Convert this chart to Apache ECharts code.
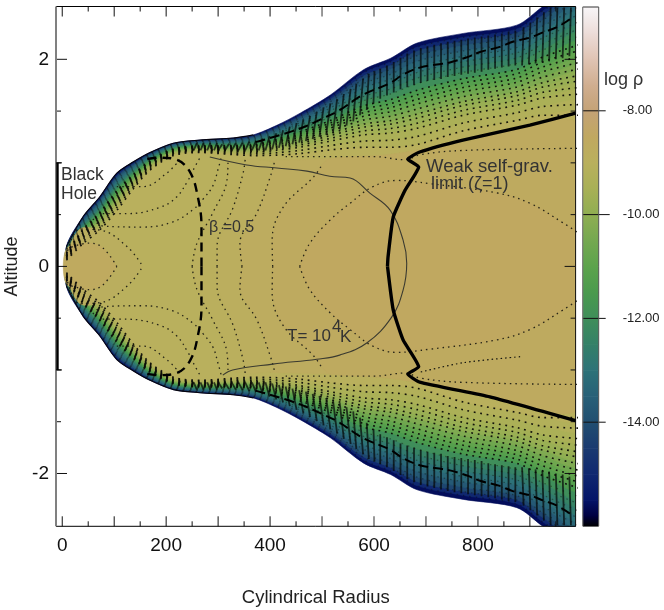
<!DOCTYPE html>
<html><head><meta charset="utf-8">
<style>html,body{margin:0;padding:0;background:#fff}#c{width:664px;height:610px}</style>
<script src="https://cdn.jsdelivr.net/npm/echarts@6/dist/echarts.min.js"></script>
</head><body><div id="c"></div>
<script>
// ---------- colour table (colour bar) ----------
const cbLevels=[-16,-15.8,-15.5,-15,-14.5,-14,-13.5,-13,-12.5,-12,-11.5,-11,-10.5,-10,-9.5,-9,-8.5,-8,-7.5,-7,-6.5,-6];
const cbColors=['#000000','#000040','#041468','#102870','#1a3a70','#214e70','#286078','#2d7278','#348068','#3f8e5a','#4a9a4e','#5ca34c','#74a850','#8fae52','#a8b056','#b9b05d','#c0a860','#c4a276','#d0ae90','#e0c4b4','#ecdcd8','#f8f6f8'];
const cbTicks=[-8,-10,-12,-14];
// ---------- density contour levels ----------
const levels=[-15.6,-15,-14.2,-13.7,-13.3,-13,-12.7,-12.4,-12,-11.5,-11.2,-10.9,-10.6,-10.3,-10,-9.8,-9.6,-9.4,-9.2,-9];
const rStops=[8,40,72,105,137,169,214,265,329,368,414,458,516,580,632,683,772,875,925,1000];
// altitude of each contour level at each radius stop (upper half, disc is mirror symmetric)
const zAt8=[.19,.185,.18,.175,.17,.16,.15,.145,.14,.13,.125,.12,.11,.105,.10,.095,.09,.08,.07,.06];
const zAt40=[.48,.47,.459,.448,.433,.419,.405,.39,.376,.359,.347,.336,.324,.311,.298,.288,.275,.262,.241,.22];
const zAt72=[.67,.657,.644,.63,.612,.595,.577,.56,.542,.521,.507,.492,.478,.462,.446,.433,.417,.401,.376,.35];
const zAt105=[.90,.886,.871,.855,.835,.815,.796,.776,.756,.733,.716,.70,.684,.666,.648,.634,.616,.598,.569,.54];
const zAt137=[1.01,1.0,.989,.978,.963,.949,.935,.92,.906,.889,.877,.866,.854,.841,.828,.818,.805,.792,.771,.75];
const zAt169=[1.10,1.093,1.086,1.079,1.069,1.06,1.051,1.041,1.032,1.021,1.013,1.006,.998,.99,.981,.974,.966,.957,.944,.93];
const zAt214=[1.19,1.185,1.18,1.175,1.168,1.162,1.155,1.149,1.142,1.134,1.129,1.123,1.118,1.112,1.106,1.101,1.095,1.089,1.08,1.07];
const zAt265=[1.22,1.215,1.21,1.205,1.198,1.192,1.185,1.179,1.172,1.164,1.159,1.153,1.148,1.142,1.136,1.131,1.125,1.119,1.11,1.10];
const zAt329=[1.24,1.234,1.227,1.22,1.211,1.202,1.194,1.185,1.176,1.166,1.158,1.151,1.144,1.136,1.128,1.122,1.114,1.106,1.093,1.08];
const zAt368=[1.27,1.262,1.254,1.245,1.234,1.223,1.212,1.201,1.19,1.177,1.168,1.159,1.15,1.14,1.13,1.122,1.112,1.102,1.086,1.07];
const zAt414=[1.365,1.353,1.342,1.329,1.313,1.297,1.281,1.265,1.249,1.23,1.217,1.204,1.191,1.177,1.162,1.15,1.136,1.121,1.098,1.075];
const zAt458=[1.48,1.464,1.449,1.431,1.41,1.388,1.367,1.345,1.324,1.299,1.281,1.264,1.246,1.227,1.207,1.191,1.172,1.152,1.121,1.09];
const zAt516=[1.655,1.634,1.613,1.589,1.56,1.53,1.501,1.472,1.443,1.409,1.385,1.361,1.337,1.31,1.284,1.263,1.236,1.21,1.167,1.125];
const zAt580=[1.90,1.87,1.84,1.806,1.765,1.724,1.683,1.641,1.60,1.551,1.518,1.484,1.45,1.413,1.375,1.345,1.308,1.27,1.21,1.15];
const zAt632=[2.01,1.976,1.941,1.903,1.855,1.808,1.761,1.713,1.666,1.61,1.571,1.533,1.494,1.451,1.408,1.374,1.331,1.288,1.219,1.15];
const zAt683=[2.157,2.118,2.079,2.035,1.981,1.927,1.873,1.819,1.765,1.701,1.657,1.613,1.569,1.52,1.471,1.432,1.383,1.334,1.255,1.177];
const zAt772=[2.25,2.212,2.175,2.133,2.081,2.029,1.977,1.926,1.874,1.813,1.771,1.728,1.686,1.639,1.592,1.554,1.507,1.46,1.385,1.31];
const zAt875=[2.33,2.293,2.256,2.215,2.164,2.114,2.063,2.013,1.962,1.902,1.861,1.819,1.778,1.732,1.686,1.649,1.603,1.557,1.484,1.41];
const zAt925=[2.51,2.468,2.426,2.379,2.321,2.263,2.206,2.148,2.09,2.022,1.975,1.927,1.88,1.828,1.775,1.733,1.681,1.628,1.544,1.46];
const zAt1000=[2.75,2.698,2.647,2.589,2.518,2.447,2.376,2.305,2.234,2.15,2.092,2.034,1.976,1.912,1.847,1.795,1.731,1.666,1.563,1.46];
const zColumns=[zAt8,zAt40,zAt72,zAt105,zAt137,zAt169,zAt214,zAt265,zAt329,zAt368,zAt414,zAt458,zAt516,zAt580,zAt632,zAt683,zAt772,zAt875,zAt925,zAt1000];
// ---------- interior contours (upper half) ----------
const c1R=[8,53,78,105],c1Z=[.17,.225,.18,0];
const c2R=[8,34,73,125,155],c2Z=[.1,.36,.35,.19,0];
const c3R=[59,78,155,213,252,271,290,300,306],c3Z=[.46,.39,.38,.43,.55,.65,.78,.94,1.05];
const c4R=[78,125,188,220,242,252,265],c4Z=[.51,.51,.57,.67,.83,.93,1.05];
const c5R=[105,155,201,226],c5Z=[.77,.77,.90,1.03];
const v1R=[250,259,290,317,319],v1Z=[0,.22,.52,.83,1.0];
const v2R=[298,298,329,348,352],v2Z=[0,.19,.57,.90,1.03];
const v3R=[346,342,375,400,408],v3Z=[0,.22,.52,.86,1.0];
const v4R=[405,404,425,483,500],v4Z=[0,.25,.57,.86,.98];
const v5R=[457,476,516,554,598,644,707,836,900,964,1000],v5Z=[0,.22,.45,.61,.77,.83,.80,.71,.61,.42,.30];
const rimR=[430,600,660,690,772,1000],rimZ=[1.06,1.06,1.03,1.08,1.12,1.14];
const roofR=[400,516,632,772,1000],roofZ=[1.02,1.04,1.08,1.2,1.34];
const lowerR=[690,772,886],lowerZ=[-1.02,-.93,-.87];
const fillLevels={v1:-8.95,v2:-8.85,v3:-8.75,v4:-8.65,v5:-8.5,c2:-8.9,c1:-8.6};
// ---------- annotated curves ----------
const zetaUpR=[626,627,637,660,686,665,688,771,900,988],zetaUpZ=[0,.09,.476,.737,.96,1.036,1.105,1.22,1.365,1.48];
const zetaLoR=[626,637,656,686,665,688,823,988],zetaLoZ=[0,-.42,-.71,-.97,-1.04,-1.117,-1.26,-1.49];
const tempR=[284,355,413,471,515,554,592,631,656,663,656,634,586,534,490,405,328,309];
const tempZ=[1.056,.98,.95,.92,.87,.853,.708,.544,.254,.03,-.23,-.49,-.74,-.857,-.896,-.944,-1.0,-1.05];
const betaInnerR=[268,268,261,246,220,188,155],betaInnerZ=[0,.38,.67,.91,1.03,1.05,1.03];
const betaOuterR=[372,451,502,534,578,631,655,688,721,746,779,804,842,867,900,925,952,981];
const betaOuterZ=[1.2,1.32,1.43,1.51,1.655,1.77,1.85,1.92,1.95,1.97,2.02,2.07,2.12,2.17,2.21,2.26,2.31,2.40];
// ---------- grid-aligned contour streaks ----------
const hatchBotR=[253,266,279,292,300,313,326,339,352,365,378,391,404,417,430,443,456,469,482,495,508,521,534,547,560,573,586,599,612,625,638,651,664,677,690,703,716,729,742,755,768,781,794,807,820,833,846,859,872,885,898,911,924,937,950,963,976];
const hatchTopR=[259,272,285,298,308,321,334,347,360,373,386,399,412,425,438,451,464,477,490,503,516,529,542,555,566,579,590,601,612,625,638,651,664,677,690,703,716,729,742,755,768,781,794,807,820,833,846,859,872,888,901,914,927,940,953,966,979];
const hatchTopZ=[1.19,1.19,1.19,1.19,1.18,1.185,1.19,1.195,1.205,1.215,1.235,1.26,1.285,1.315,1.35,1.385,1.42,1.455,1.495,1.535,1.575,1.615,1.665,1.715,1.765,1.815,1.86,1.885,1.91,1.94,1.975,2.015,2.055,2.085,2.11,2.125,2.14,2.155,2.17,2.18,2.19,2.2,2.21,2.22,2.23,2.24,2.25,2.265,2.275,2.31,2.355,2.405,2.455,2.5,2.5,2.5,2.5];
const hatchBotZ=[1.12,1.12,1.12,1.12,1.12,1.12,1.12,1.12,1.12,1.12,1.12,1.12,1.13,1.145,1.16,1.18,1.195,1.21,1.23,1.25,1.27,1.29,1.32,1.36,1.40,1.46,1.51,1.57,1.62,1.65,1.68,1.71,1.73,1.75,1.77,1.79,1.80,1.81,1.83,1.84,1.85,1.86,1.87,1.88,1.90,1.91,1.92,1.93,1.94,1.94,1.95,1.96,1.97,1.98,2.0,2.01,2.03];
// ---------- axes ----------
const xLabels=[0,200,400,600,800];
const yLabels=[-2,0,2];
const xLongTicks=[0,100,200,300,400,500,600,700,800,900];
const xShortTicks=[50,150,250,350,450,550,650,750,850,950];
const xGreyTicks=[500,600,700,800];
const yLongTicks=[-2,0,2];
const yShortTicks=[-1.5,-1,-.5,.5,1,1.5];
const blackHoleZ=[-1,1];
const X_MIN=-12,X_MAX=988,Y_MIN=-2.51,Y_MAX=2.51;
const RIM_COLUMNS=10;

function hex(c){return [1,3,5].map(i=>parseInt(c.substr(i,2),16));}
function colorAt(v){
  for(let i=0;i<cbLevels.length-1;i++){
    if(v<=cbLevels[i+1]){
      const t=(v-cbLevels[i])/(cbLevels[i+1]-cbLevels[i]);
      const a=hex(cbColors[i]),b=hex(cbColors[i+1]);
      return 'rgb('+a.map((x,k)=>Math.round(x+(b[k]-x)*t)).join(',')+')';
    }
  }
  return cbColors[cbColors.length-1];
}
const zip=(r,z)=>r.map((x,i)=>[x,z[i]]);
const mirror=p=>p.map(q=>[q[0],-q[1]]);
const closed=p=>p.concat(mirror(p).reverse());
const contour=k=>rStops.map((r,i)=>[r,zColumns[i][k]]);
const SM=0.3;

// filled regions, outermost first
const fills=[];
levels.forEach((lv,k)=>fills.push({pts:closed(contour(k)),color:colorAt(lv)}));
const roof=zip(roofR,roofZ);
fills.push({pts:closed(zip(v1R,v1Z).concat(roof)),color:colorAt(fillLevels.v1)});
fills.push({pts:closed(zip(v2R,v2Z).concat(roof)),color:colorAt(fillLevels.v2)});
fills.push({pts:closed(zip(v3R,v3Z).concat(roof)),color:colorAt(fillLevels.v3)});
fills.push({pts:closed(zip(v4R,v4Z).concat(roof.slice(1))),color:colorAt(fillLevels.v4)});
fills.push({pts:closed(zip(v5R,v5Z)),color:colorAt(fillLevels.v5)});
fills.push({pts:closed(zip(c2R,c2Z)),color:colorAt(fillLevels.c2)});
fills.push({pts:closed(zip(c1R,c1Z)),color:colorAt(fillLevels.c1)});

function polyItem(params,api){
  const f=fills[api.value(0)];
  return {type:'polygon',shape:{points:f.pts.map(p=>api.coord(p)),smooth:SM},style:{fill:f.color,stroke:f.color,lineWidth:0.6}};
}
function lineSeries(data,extra){
  return Object.assign({type:'line',data:data,showSymbol:false,silent:true,animation:false,xAxisIndex:0,yAxisIndex:0},extra);
}
const dotted={color:'#0c0c08',width:1.6,type:[1.8,4.7],opacity:.95};
const dottedFaint={color:'#0c0c08',width:1.2,type:[1.5,5],opacity:.4};
const series=[];
series.push({type:'custom',xAxisIndex:0,yAxisIndex:0,clip:true,silent:true,animation:false,data:fills.map((f,i)=>[i]),renderItem:polyItem});

// dark rim of the inner envelope
const rimPts=contour(0).slice(0,RIM_COLUMNS);
[rimPts,mirror(rimPts)].forEach(d=>series.push(lineSeries(d,{smooth:SM,lineStyle:{color:'#050510',width:1.1}})));
// contour lines of the atmosphere
levels.forEach((lv,k)=>{ if(k===0)return;
  [contour(k),mirror(contour(k))].forEach(d=>series.push(lineSeries(d,{smooth:SM,lineStyle:k<9?dottedFaint:dotted})));
});
// interior contours
[[c1R,c1Z],[c2R,c2Z],[c3R,c3Z],[c4R,c4Z],[c5R,c5Z],[v1R,v1Z],[v2R,v2Z],[v3R,v3Z],[v4R,v4Z],[v5R,v5Z],[rimR,rimZ]].forEach(c=>{
  const u=zip(c[0],c[1]);
  [u,mirror(u)].forEach(d=>series.push(lineSeries(d,{smooth:.4,lineStyle:{color:'#15150f',width:1.3,type:[1.5,4],opacity:.9}})));
});
series.push(lineSeries(zip(lowerR,lowerZ),{smooth:.3,lineStyle:{color:'#15150f',width:1.2,type:[1.5,3]}}));
// vertical streaks
series.push({type:'custom',xAxisIndex:0,yAxisIndex:0,clip:true,silent:true,animation:false,
  data:hatchBotR.flatMap((r,i)=>[[i,1],[i,-1]]),
  renderItem:function(params,api){
    const i=api.value(0),s=api.value(1);
    const a=api.coord([hatchTopR[i],s*hatchTopZ[i]]),b=api.coord([hatchBotR[i],s*hatchBotZ[i]]);
    return {type:'line',shape:{x1:a[0],y1:a[1],x2:b[0],y2:b[1]},style:{stroke:'#050808',lineWidth:1.8,opacity:.72}};
  }});
// beta = 0.5
[zip(betaInnerR,betaInnerZ),mirror(zip(betaInnerR,betaInnerZ))].forEach(d=>series.push(lineSeries(d,{smooth:.4,lineStyle:{color:'#000',width:2.4,type:[9,6]}})));
[zip(betaOuterR,betaOuterZ),mirror(zip(betaOuterR,betaOuterZ))].forEach(d=>series.push(lineSeries(d,{smooth:.4,lineStyle:{color:'#000',width:2,type:[10,5]}})));
// T = 1e4 K
series.push(lineSeries(zip(tempR,tempZ),{smooth:.4,lineStyle:{color:'#3a3a30',width:1.1}}));
// zeta = 1
series.push(lineSeries(zip(zetaUpR,zetaUpZ),{smooth:.15,lineStyle:{color:'#000',width:3.4}}));
series.push(lineSeries(zip(zetaLoR,zetaLoZ),{smooth:.15,lineStyle:{color:'#000',width:3.4}}));

// ticks and frame
function seg(a,b,stroke,w){return {type:'line',shape:{x1:a[0],y1:a[1],x2:b[0],y2:b[1]},style:{stroke:stroke,lineWidth:w}};}
series.push({type:'custom',xAxisIndex:0,yAxisIndex:0,clip:false,silent:true,animation:false,data:[[0]],
  renderItem:function(params,api){
    const kids=[];
    const tl=api.coord([X_MIN,Y_MAX]),br=api.coord([X_MAX,Y_MIN]);
    xLongTicks.concat(xShortTicks).forEach(v=>{
      const long=xLongTicks.includes(v),len=long?10:5,x=api.coord([v,0])[0];
      const grey=xGreyTicks.includes(v);
      const col=grey?'#808080':'#111',w=grey?1.6:1;
      kids.push(seg([x,tl[1]],[x,tl[1]+len],col,w));
      kids.push(seg([x,br[1]],[x,br[1]-len],col,w));
    });
    yLongTicks.concat(yShortTicks).forEach(v=>{
      const long=yLongTicks.includes(v),len=long?11:5,y=api.coord([0,v])[1];
      kids.push(seg([tl[0],y],[tl[0]+len,y],'#111',1));
      kids.push(seg([br[0],y],[br[0]-len,y],'#111',1));
    });
    kids.push(seg([tl[0],tl[1]],[br[0],tl[1]],'#000',1));
    kids.push(seg([tl[0],br[1]],[br[0],br[1]],'#000',1));
    kids.push(seg([br[0],tl[1]],[br[0],br[1]],'#111',1));
    kids.push(seg([tl[0],tl[1]],[tl[0],br[1]],'#808080',2));
    const bhTop=api.coord([X_MIN,blackHoleZ[1]])[1],bhBot=api.coord([X_MIN,blackHoleZ[0]])[1];
    kids.push(seg([tl[0]+1.5,bhTop],[tl[0]+1.5,bhBot],'#000',2.4));
    kids.push(seg([tl[0],bhTop],[tl[0]+6,bhTop],'#000',1));
    kids.push(seg([tl[0],bhBot],[tl[0]+6,bhBot],'#000',1));
    return {type:'group',children:kids};
  }});
// colour bar
series.push({type:'custom',xAxisIndex:1,yAxisIndex:1,clip:false,silent:true,animation:false,
  data:cbLevels.slice(0,-1).map((v,i)=>[i]),
  renderItem:function(params,api){
    const i=api.value(0);
    const a=api.coord([0,cbLevels[i+1]]),b=api.coord([1,cbLevels[i]]);
    return {type:'rect',shape:{x:a[0],y:a[1],width:b[0]-a[0],height:b[1]-a[1]+.6},
      style:{fill:new echarts.graphic.LinearGradient(0,0,0,1,[{offset:0,color:cbColors[i+1]},{offset:1,color:cbColors[i]}])}};
  }});
series.push({type:'custom',xAxisIndex:1,yAxisIndex:1,clip:false,silent:true,animation:false,data:[[0]],
  renderItem:function(params,api){
    const kids=[];
    const tl=api.coord([0,-6]),br=api.coord([1,-16]);
    cbTicks.forEach(v=>{
      const y=api.coord([0,v])[1];
      kids.push(seg([tl[0],y],[br[0]+(v===-10?11:7),y],'#111',1));
    });
    kids.push(seg([tl[0],tl[1]],[br[0],tl[1]],'#333',1));
    kids.push(seg([tl[0],tl[1]],[tl[0],br[1]],'#777',1.2));
    kids.push(seg([br[0],tl[1]],[br[0],br[1]],'#555',1));
    return {type:'group',children:kids};
  }});

const FONT='"Liberation Sans",Arial,sans-serif';
const txt=(text,x,y,size,extra)=>({type:'text',x:x,y:y,z:50,silent:true,style:Object.assign({text:text,fontFamily:FONT,fontSize:size,fill:'#333',textVerticalAlign:'middle',verticalAlign:'middle'},extra||{})});
const chart=echarts.init(document.getElementById('c'),null,{renderer:'canvas'});
chart.setOption({
  animation:false,backgroundColor:'#fff',
  grid:[{left:56,top:6.5,width:519.6,height:519.8,outerBoundsMode:'none'},{left:582.7,top:7,width:16,height:519,outerBoundsMode:'none'}],
  xAxis:[
    {gridIndex:0,type:'value',min:X_MIN,max:X_MAX,splitLine:{show:false},axisLine:{show:false},axisTick:{show:false},
     axisLabel:{customValues:xLabels,fontFamily:FONT,fontSize:19,color:'#111',margin:10,hideOverlap:false},
     name:'Cylindrical Radius',nameLocation:'middle',nameGap:62,nameTextStyle:{fontFamily:FONT,fontSize:18.5,color:'#222'}},
    {gridIndex:1,type:'value',min:0,max:1,show:false}
  ],
  yAxis:[
    {gridIndex:0,type:'value',min:Y_MIN,max:Y_MAX,splitLine:{show:false},axisLine:{show:false},axisTick:{show:false},
     axisLabel:{customValues:yLabels,fontFamily:FONT,fontSize:19,color:'#111',margin:7},
     name:'Altitude',nameLocation:'middle',nameGap:35,nameTextStyle:{fontFamily:FONT,fontSize:18,color:'#222'}},
    {gridIndex:1,type:'value',min:-16,max:-6,position:'right',splitLine:{show:false},axisLine:{show:false},axisTick:{show:false},
     axisLabel:{customValues:cbTicks,formatter:v=>Number(v).toFixed(2),fontFamily:FONT,fontSize:13,color:'#222',margin:24,align:'left',padding:[4,0,0,0]}}
  ],
  series:series,
  graphic:[
    txt('Black',61,175,17.5),txt('Hole',61,194,17.5),
    txt('\u03b2 =0.5',209,228,16),
    txt('T= 10',287,336,17),txt('4',332,327,17),txt('K',340,337,17),
    txt('Weak self-grav.',426,167,18.5),txt('limit (\u03b6=1)',431,184,18),
    txt('log \u03c1',604,80,18)
  ]
});
</script></body></html>
